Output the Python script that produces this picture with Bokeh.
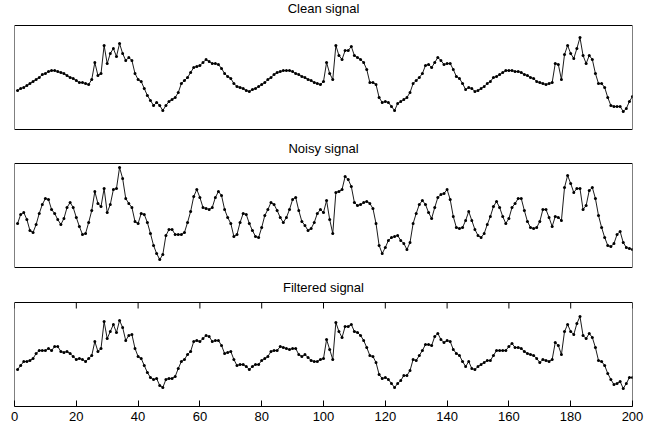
from bokeh.plotting import figure
from bokeh.models import Range1d, LinearAxis, FixedTicker, Label, BoxAnnotation
from bokeh.embed import file_html
from bokeh.resources import INLINE

x = list(range(1, 201))

clean = [39, 41, 42, 44, 46, 48, 50, 52, 55, 56, 58, 59, 59, 58, 57, 56, 54, 52, 51, 49,
         47, 47, 46, 45, 50, 67, 54, 56, 84, 66, 76, 81, 73, 86, 76, 69, 72, 69, 56, 50,
         48, 41, 34, 29, 24, 27, 24, 19, 24, 28, 30, 32, 37, 46, 49, 52, 57, 62, 63, 64,
         67, 70, 68, 66, 66, 65, 61, 56, 53, 51, 46, 43, 42, 41, 39, 38, 40, 41, 43, 45,
         47, 50, 52, 55, 57, 58, 59, 59, 59, 58, 56, 55, 53, 52, 50, 49, 47, 46, 45, 48,
         67, 56, 50, 84, 74, 70, 79, 79, 83, 74, 72, 70, 67, 60, 47, 47, 45, 32, 27, 28,
         27, 23, 19, 26, 28, 30, 32, 37, 46, 49, 52, 56, 64, 65, 62, 67, 72, 69, 65, 66,
         66, 60, 53, 51, 46, 40, 42, 41, 38, 39, 41, 43, 46, 48, 52, 53, 55, 57, 59, 59,
         59, 58, 58, 57, 55, 54, 52, 51, 48, 47, 46, 45, 46, 47, 66, 65, 50, 75, 84, 76,
         71, 81, 92, 74, 66, 74, 70, 56, 46, 46, 42, 32, 24, 23, 23, 23, 18, 21, 28, 33]

noisy = [44, 53, 55, 48, 37, 35, 43, 54, 63, 69, 68, 58, 54, 48, 43, 49, 60, 65, 60, 50,
         41, 33, 34, 45, 57, 76, 64, 61, 79, 55, 63, 78, 79, 100, 89, 69, 64, 60, 46, 44,
         54, 53, 45, 34, 22, 14, 8, 13, 32, 38, 38, 33, 33, 33, 35, 45, 56, 71, 78, 70,
         60, 59, 58, 60, 70, 76, 72, 58, 50, 44, 31, 33, 45, 54, 53, 44, 37, 31, 30, 40,
         52, 58, 65, 63, 57, 50, 45, 50, 58, 68, 70, 57, 46, 42, 37, 39, 45, 54, 58, 55,
         67, 48, 34, 75, 76, 78, 91, 88, 81, 65, 62, 63, 65, 66, 64, 59, 44, 22, 14, 20,
         27, 30, 31, 32, 27, 24, 18, 25, 44, 54, 63, 67, 63, 55, 49, 60, 70, 73, 74, 78,
         68, 51, 40, 39, 40, 47, 56, 47, 38, 32, 30, 34, 43, 51, 61, 66, 60, 51, 44, 49,
         60, 64, 69, 69, 57, 46, 40, 39, 40, 46, 58, 58, 50, 41, 51, 50, 47, 80, 92, 84,
         75, 79, 79, 58, 62, 77, 80, 69, 52, 40, 30, 22, 21, 24, 33, 36, 25, 20, 19, 18]

filtered = [37, 41, 45, 45, 46, 48, 53, 56, 56, 56, 58, 56, 60, 60, 55, 54, 55, 53, 50, 47,
            48, 47, 45, 48, 51, 65, 55, 58, 85, 68, 75, 82, 74, 86, 79, 66, 71, 72, 58, 50,
            48, 41, 34, 29, 27, 28, 21, 19, 27, 28, 28, 30, 38, 45, 47, 52, 55, 65, 66, 65,
            68, 71, 70, 65, 66, 66, 61, 53, 54, 55, 47, 41, 42, 42, 40, 37, 40, 42, 42, 46,
            48, 50, 55, 56, 56, 60, 59, 58, 57, 58, 58, 52, 50, 52, 49, 46, 45, 45, 47, 48,
            67, 57, 47, 84, 75, 69, 80, 80, 82, 75, 74, 71, 66, 59, 51, 50, 44, 32, 28, 29,
            27, 23, 19, 23, 26, 31, 31, 36, 47, 46, 51, 56, 62, 62, 61, 70, 73, 67, 64, 66,
            65, 57, 53, 51, 45, 40, 45, 38, 37, 40, 42, 44, 46, 46, 51, 56, 56, 56, 56, 60,
            63, 59, 59, 58, 55, 53, 52, 51, 48, 44, 47, 46, 45, 47, 64, 61, 52, 75, 82, 75,
            72, 83, 90, 71, 68, 73, 69, 59, 46, 45, 41, 33, 27, 22, 23, 25, 18, 23, 29, 29]

titles = ["Clean signal", "Noisy signal", "Filtered signal"]
xticks = [0, 20, 40, 60, 80, 100, 120, 140, 160, 180, 200]

FONT = "Liberation Sans"
YMAX = 104  # each panel's value range is 0..104

# One canvas, three stacked panels, each with its own vertical scale.
p = figure(frame_width=618, frame_height=406,
           x_range=Range1d(0, 200), y_range=Range1d(0, 406),
           x_axis_location=None, y_axis_location=None,
           output_backend="svg", toolbar_location=None,
           min_border_left=14, min_border_right=27,
           min_border_top=0, min_border_bottom=26)
p.extra_y_ranges = {"clean": Range1d(-277, 129), "noisy": Range1d(-139, 267)}
for g in p.grid:
    g.visible = False
p.outline_line_color = None
p.background_fill_color = "white"
p.border_fill_color = "white"

panels = [("clean", clean, titles[0], 17),
          ("noisy", noisy, titles[1], 15),
          ("default", filtered, titles[2], 15)]

for rname, y, title, gap in panels:
    p.add_layout(BoxAnnotation(left=0, right=200, bottom=0, top=YMAX,
                               y_range_name=rname, fill_alpha=0,
                               line_color="black", line_width=1, line_alpha=1))
    p.add_layout(Label(x=100, y=YMAX + gap, y_range_name=rname, text=title,
                       text_align="center", text_baseline="middle",
                       text_font=FONT, text_font_size="13px",
                       text_color="black"))
    p.line(x, y, y_range_name=rname, line_color="black", line_width=0.9)
    p.scatter(x, y, y_range_name=rname, size=3, color="black", line_width=0)

ax = LinearAxis(ticker=FixedTicker(ticks=xticks))
ax.major_tick_in = 6
ax.major_tick_out = 0
ax.minor_tick_line_color = None
ax.axis_line_color = "black"
ax.major_tick_line_color = "black"
ax.major_label_text_font = FONT
ax.major_label_text_font_size = "13px"
ax.major_label_text_color = "black"
ax.major_label_standoff = 5
p.add_layout(ax, "below")

# inward ticks on the top edge of the bottom panel
p.segment(x0=xticks, y0=[YMAX] * len(xticks), x1=xticks,
          y1=[YMAX - 6] * len(xticks), line_color="black", line_width=1)

open("out.html", "w").write(file_html(p, INLINE))
